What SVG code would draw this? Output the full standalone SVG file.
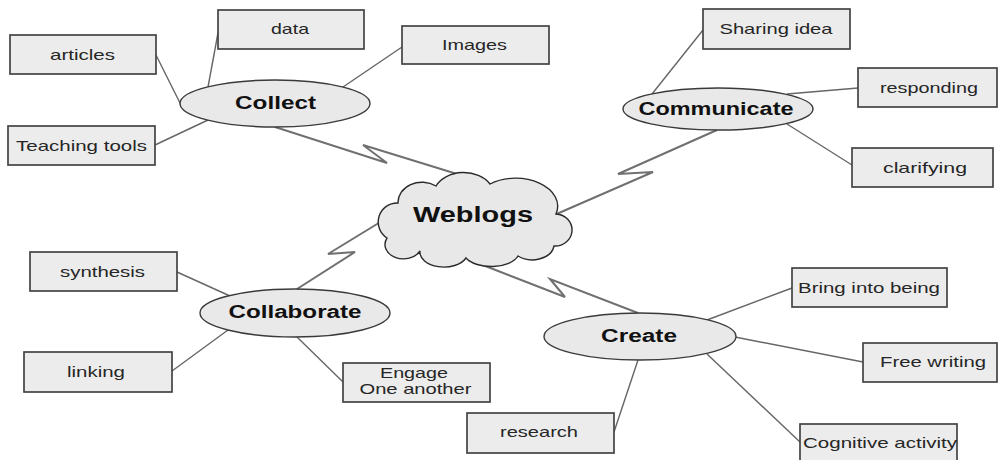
<svg xmlns="http://www.w3.org/2000/svg" width="998" height="460" viewBox="0 0 998 460">
<style>
.bg{fill:#ffffff}
.box{fill:#ececec;stroke:#444444;stroke-width:1.7}
.ell{fill:#e9e9e9;stroke:#3a3a3a;stroke-width:1.4}
.cloud{fill:#e8e8e8;stroke:#2a2a2a;stroke-width:1.4}
.ln{fill:none;stroke:#666666;stroke-width:1.4}
.bolt{fill:none;stroke:#707070;stroke-width:2;stroke-linejoin:miter}
.t{font-family:"Liberation Sans",Arial,sans-serif;font-size:15px;fill:#262626;text-anchor:middle}
.h{font-family:"Liberation Sans",Arial,sans-serif;font-size:18px;font-weight:bold;fill:#111111;text-anchor:middle}
.w{font-family:"Liberation Sans",Arial,sans-serif;font-size:22px;font-weight:bold;fill:#111111;text-anchor:middle}
</style>
<rect class="bg" x="0" y="0" width="998" height="460"/>
<g id="connectors">
<line class="ln" x1="156" y1="55" x2="181" y2="105"/>
<line class="ln" x1="218" y1="33" x2="208" y2="87"/>
<line class="ln" x1="402" y1="47" x2="343" y2="87"/>
<line class="ln" x1="155" y1="145" x2="208" y2="120"/>
<line class="ln" x1="703" y1="30" x2="652" y2="94"/>
<line class="ln" x1="858" y1="88" x2="787" y2="94"/>
<line class="ln" x1="852" y1="165" x2="787" y2="124"/>
<line class="ln" x1="177" y1="272" x2="230" y2="296"/>
<line class="ln" x1="172" y1="371" x2="228" y2="330"/>
<line class="ln" x1="343" y1="382" x2="297" y2="337"/>
<line class="ln" x1="792" y1="288" x2="707" y2="320"/>
<line class="ln" x1="863" y1="362" x2="735" y2="337"/>
<line class="ln" x1="800" y1="442" x2="707" y2="354"/>
<line class="ln" x1="614" y1="432" x2="638" y2="360"/>
<polyline class="bolt" points="275,127 387,163 363,145 483,182"/>
<polyline class="bolt" points="552,216 653,172 618,174 717,130"/>
<polyline class="bolt" points="297,289 355,252 328,254 382,221"/>
<polyline class="bolt" points="475,262 565,297 550,279 638,313"/>
</g>
<g id="weblogs">
<path class="cloud" d="M387,238 A19,19 0 0 1 398,203 A24,20 0 0 1 436,186 A30,22 0 0 1 490,184 A42,28 0 0 1 556,214 A17,16 0 0 1 554,246 A22,16 0 0 1 518,256 A28,15 0 0 1 466,258 A24,15 0 0 1 420,251 A18,14 0 0 1 387,238 Z"/>
<text class="w" x="473" y="222" textLength="120" lengthAdjust="spacingAndGlyphs">Weblogs</text>
</g>
<g id="collect">
<ellipse class="ell" cx="275" cy="103.5" rx="95" ry="23.5"/>
<text class="h" x="275.5" y="109" textLength="81" lengthAdjust="spacingAndGlyphs">Collect</text>
</g>
<g id="communicate">
<ellipse class="ell" cx="718" cy="109" rx="95" ry="21"/>
<text class="h" x="716" y="115" textLength="155" lengthAdjust="spacingAndGlyphs">Communicate</text>
</g>
<g id="collaborate">
<ellipse class="ell" cx="295" cy="313" rx="95" ry="24"/>
<text class="h" x="295" y="318" textLength="133" lengthAdjust="spacingAndGlyphs">Collaborate</text>
</g>
<g id="create">
<ellipse class="ell" cx="640" cy="336.5" rx="96" ry="23.5"/>
<text class="h" x="639" y="342" textLength="76" lengthAdjust="spacingAndGlyphs">Create</text>
</g>
<g id="data">
<rect class="box" x="218" y="10" width="146" height="39"/>
<text class="t" x="290" y="34" textLength="38" lengthAdjust="spacingAndGlyphs">data</text>
</g>
<g id="articles">
<rect class="box" x="10" y="35" width="146" height="39"/>
<text class="t" x="82.5" y="60" textLength="65" lengthAdjust="spacingAndGlyphs">articles</text>
</g>
<g id="images">
<rect class="box" x="402" y="26" width="147" height="38"/>
<text class="t" x="474.5" y="50" textLength="65" lengthAdjust="spacingAndGlyphs">Images</text>
</g>
<g id="teaching-tools">
<rect class="box" x="8" y="126" width="147" height="39"/>
<text class="t" x="81.5" y="151" textLength="131" lengthAdjust="spacingAndGlyphs">Teaching tools</text>
</g>
<g id="sharing-idea">
<rect class="box" x="703" y="9" width="147" height="40"/>
<text class="t" x="776" y="34" textLength="113" lengthAdjust="spacingAndGlyphs">Sharing idea</text>
</g>
<g id="responding">
<rect class="box" x="858" y="68" width="139" height="39"/>
<text class="t" x="929" y="93" textLength="98" lengthAdjust="spacingAndGlyphs">responding</text>
</g>
<g id="clarifying">
<rect class="box" x="852" y="148" width="141" height="39"/>
<text class="t" x="925" y="173" textLength="84" lengthAdjust="spacingAndGlyphs">clarifying</text>
</g>
<g id="synthesis">
<rect class="box" x="30" y="252" width="147" height="39"/>
<text class="t" x="102.5" y="277" textLength="85" lengthAdjust="spacingAndGlyphs">synthesis</text>
</g>
<g id="linking">
<rect class="box" x="24" y="352" width="148" height="40"/>
<text class="t" x="96" y="377" textLength="58" lengthAdjust="spacingAndGlyphs">linking</text>
</g>
<g id="engage">
<rect class="box" x="343" y="363" width="147" height="39"/>
<text class="t" x="414" y="378" textLength="68" lengthAdjust="spacingAndGlyphs">Engage</text>
<text class="t" x="415.5" y="394" textLength="112" lengthAdjust="spacingAndGlyphs">One another</text>
</g>
<g id="bring-into-being">
<rect class="box" x="792" y="268" width="155" height="39"/>
<text class="t" x="869" y="293" textLength="142" lengthAdjust="spacingAndGlyphs">Bring into being</text>
</g>
<g id="free-writing">
<rect class="box" x="863" y="343" width="134" height="39"/>
<text class="t" x="933" y="367" textLength="106" lengthAdjust="spacingAndGlyphs">Free writing</text>
</g>
<g id="cognitive-activity">
<rect class="box" x="800" y="424" width="157" height="44"/>
<text class="t" x="880" y="448" textLength="154" lengthAdjust="spacingAndGlyphs">Cognitive activity</text>
</g>
<g id="research">
<rect class="box" x="467" y="413" width="147" height="40"/>
<text class="t" x="539" y="437" textLength="78" lengthAdjust="spacingAndGlyphs">research</text>
</g>
</svg>
